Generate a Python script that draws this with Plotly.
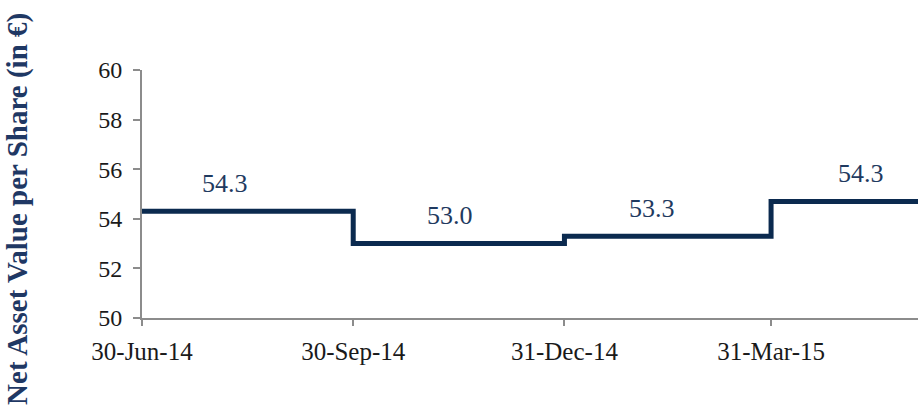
import plotly.graph_objects as go
from datetime import date, timedelta

# Data
dates = ["2014-06-30", "2014-09-30", "2014-12-31", "2015-03-31", "2015-06-03"]
nav_values = [54.3, 53.0, 53.3, 54.7, 54.7]
label_texts = ["54.3", "53.0", "53.3", "54.3"]
tick_dates = ["2014-06-30", "2014-09-30", "2014-12-31", "2015-03-31"]
tick_labels = ["30-Jun-14", "30-Sep-14", "31-Dec-14", "31-Mar-15"]
label_fracs = [0.40, 0.46, 0.43, 0.62]

NAVY = "#0B2A4F"
SERIF = "Liberation Serif, Times New Roman, serif"

fig = go.Figure()
fig.add_trace(go.Scatter(
    x=dates, y=nav_values, mode="lines",
    line=dict(color=NAVY, width=5, shape="hv"),
    hoverinfo="skip", showlegend=False,
))

annotations = []
for i, txt in enumerate(label_texts):
    d0 = date.fromisoformat(dates[i])
    d1 = date.fromisoformat(dates[i + 1])
    xm = d0 + timedelta(days=(d1 - d0).days * label_fracs[i])
    annotations.append(dict(
        x=xm.isoformat(), y=nav_values[i], xref="x", yref="y",
        text=txt, showarrow=False, yshift=28, xanchor="center",
        font=dict(family=SERIF, size=26, color="#1F3A60"),
    ))

annotations.append(dict(
    x=0, y=0.44, xref="paper", yref="paper", xshift=-124,
    xanchor="center", yanchor="middle",
    text="<b>Net Asset Value per Share (in €)</b>", textangle=-90,
    showarrow=False, font=dict(family=SERIF, size=29, color="#1F3864"),
))

fig.update_layout(
    width=918, height=410, autosize=False,
    margin=dict(l=142, r=0, t=70, b=92),
    paper_bgcolor="white", plot_bgcolor="white",
    annotations=annotations,
    xaxis=dict(
        type="date", range=[dates[0], dates[-1]],
        tickmode="array", tickvals=tick_dates, ticktext=tick_labels,
        showline=True, linecolor="#8C8C8C", linewidth=2,
        ticks="outside", ticklen=6, tickwidth=2, tickcolor="#8C8C8C",
        showgrid=False, zeroline=False, ticklabelstandoff=4,
        tickfont=dict(family=SERIF, size=25, color="#1a1a1a"),
    ),
    yaxis=dict(
        range=[50, 60], dtick=2, tick0=50,
        showline=True, linecolor="#8C8C8C", linewidth=2,
        ticks="outside", ticklen=7, tickwidth=2, tickcolor="#8C8C8C",
        showgrid=False, zeroline=False, ticklabelstandoff=6,
        tickfont=dict(family=SERIF, size=24, color="#1a1a1a"),
    ),
)

fig.write_html(
    "out.html",
    config={"responsive": False, "displayModeBar": False},
    post_script="document.body.style.margin='0';document.body.style.overflow='hidden';",
)
